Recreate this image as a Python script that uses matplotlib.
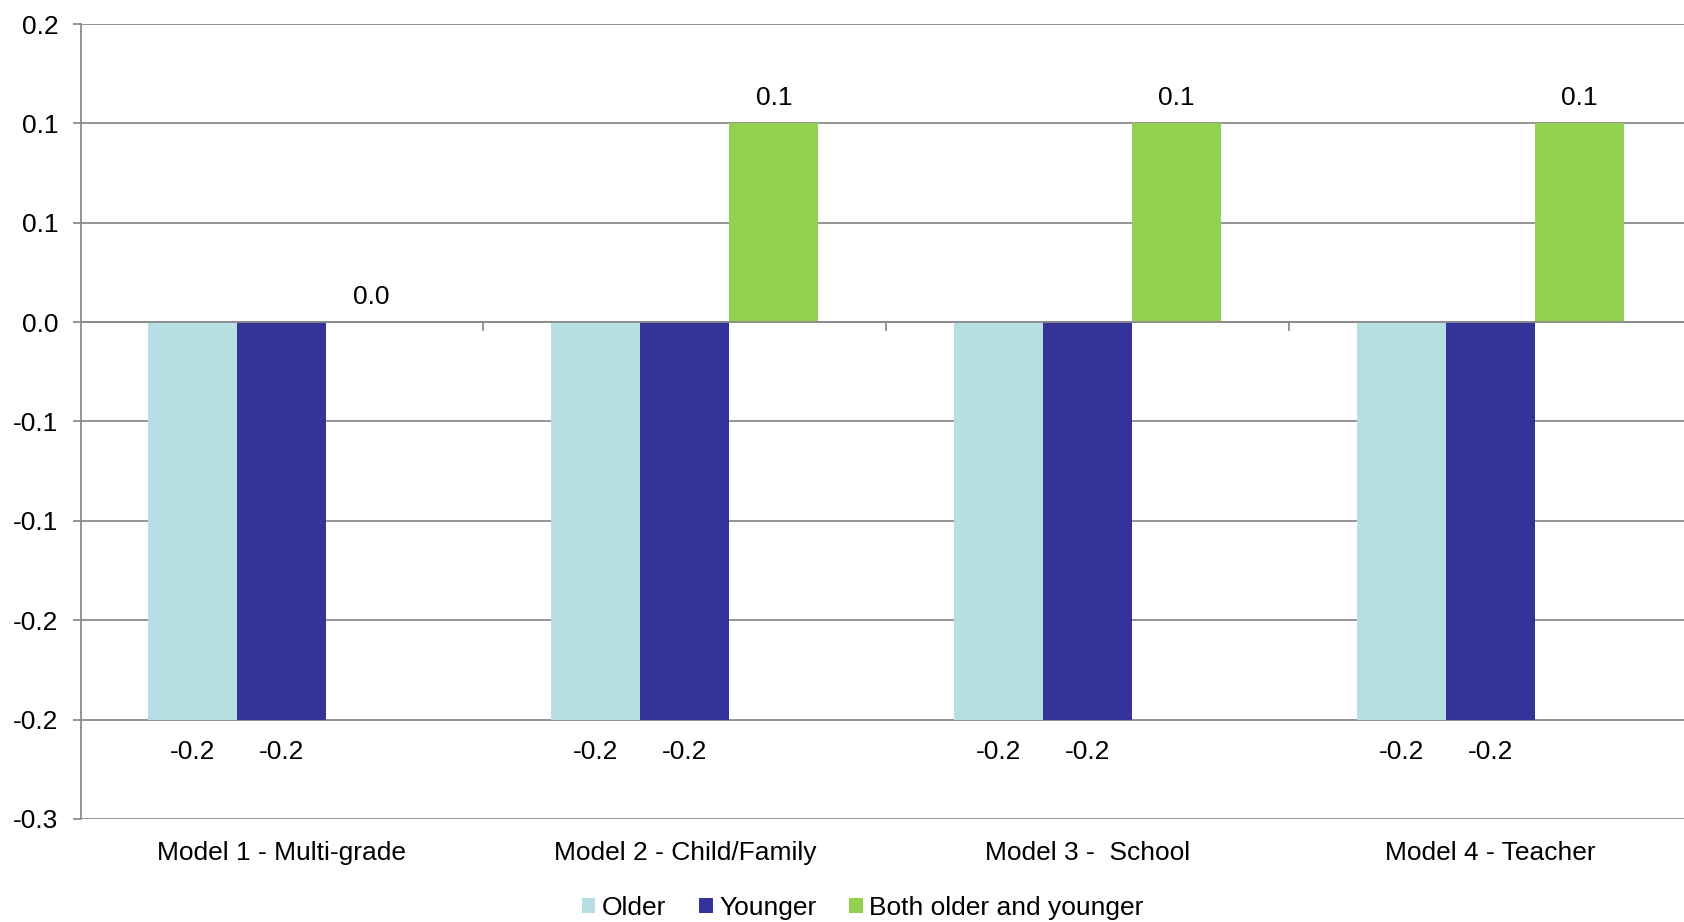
import matplotlib
matplotlib.use("Agg")
import matplotlib.pyplot as plt
from matplotlib.patches import Patch
import numpy as np

plt.rcParams['font.family'] = ['Liberation Sans', 'DejaVu Sans']

categories = ["Model 1 - Multi-grade", "Model 2 - Child/Family", "Model 3 -  School", "Model 4 - Teacher"]
series_names = ["Older", "Younger", "Both older and younger"]
older = [-0.2, -0.2, -0.2, -0.2]
younger = [-0.2, -0.2, -0.2, -0.2]
both = [0.0, 0.1, 0.1, 0.1]
y_ticks = [0.15, 0.10, 0.05, 0.0, -0.05, -0.10, -0.15, -0.20, -0.25]
y_tick_labels = ["0.2", "0.1", "0.1", "0.0", "-0.1", "-0.1", "-0.2", "-0.2", "-0.3"]

colors = ["#B7DEE2", "#333399", "#92D050"]
grid_color = "#8C8C8C"
fs = 19

fig = plt.figure(figsize=(16.84, 9.22), dpi=100)
ax = fig.add_axes([80.5 / 1684, 1 - 819 / 922, (1692 - 80.5) / 1684, (819 - 24) / 922])

x = np.arange(len(categories))
width = 0.221
series = [older, younger, both]
for i, (vals, col, name) in enumerate(zip(series, colors, series_names)):
    pos = x + (i - 1) * width
    ax.bar(pos, vals, width=width, color=col, label=name, zorder=2)
    for xp, v in zip(pos, vals):
        if v < 0:
            ax.annotate(f"{v:.1f}", (xp, v), xytext=(0, -23), textcoords="offset points",
                        ha="center", va="center", fontsize=fs, color="black")
        else:
            ax.annotate(f"{v:.1f}", (xp, v), xytext=(0, 18), textcoords="offset points",
                        ha="center", va="center", fontsize=fs, color="black")

ax.set_xlim(-0.5, len(categories) - 0.5)
ax.set_ylim(y_ticks[-1], y_ticks[0])
ax.set_yticks(y_ticks)
ax.set_yticklabels(y_tick_labels, fontsize=fs)
ax.yaxis.grid(True, color=grid_color, linewidth=1.3, zorder=1)
ax.set_axisbelow(True)
# zero line above the bars
ax.axhline(0, color=grid_color, linewidth=1.3, zorder=3)

# category separators on the zero line
for b in np.arange(0.5, len(categories) - 0.5, 1.0):
    ax.plot([b, b], [0, -0.004], color=grid_color, linewidth=1.3, zorder=3, clip_on=False)

ax.set_xticks(x)
ax.set_xticklabels(categories, fontsize=fs)
ax.tick_params(axis="x", length=0, pad=16)
ax.tick_params(axis="y", length=6, width=1.3, color=grid_color, pad=10)

for s in ["top", "right", "bottom"]:
    ax.spines[s].set_visible(False)
ax.spines["left"].set_color(grid_color)
ax.spines["left"].set_linewidth(1.3)

handles = [Patch(facecolor=c, edgecolor="none") for c in colors]
fig.legend(handles, series_names, loc="center", bbox_to_anchor=(0.5124, 1 - 908 / 922),
           ncol=3, frameon=False, fontsize=fs, handlelength=0.5, handleheight=0.5,
           handletextpad=0.25, columnspacing=1.25)

fig.savefig("out.png", dpi=100)
